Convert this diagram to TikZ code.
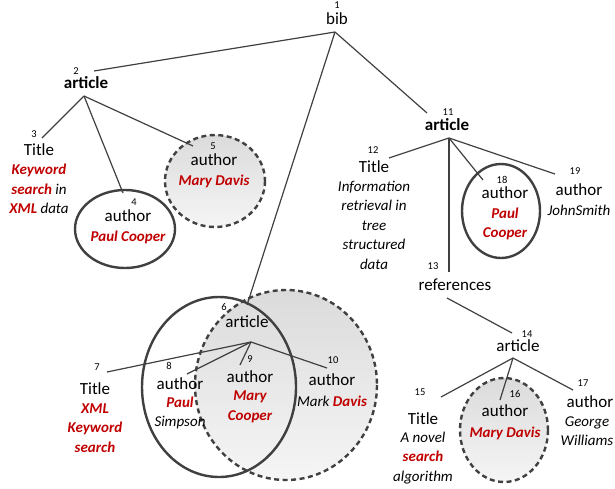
\documentclass[tikz,border=0pt]{standalone}
\usepackage{fontspec}
\setmainfont{Carlito}
\definecolor{kred}{RGB}{192,0,0}
\definecolor{edgec}{RGB}{64,64,64}
\definecolor{ringc}{RGB}{64,64,64}
\newcommand{\hl}[1]{\textcolor{kred}{\bfseries #1}}
% vertical grey gradient inside an ellipse: darker at the top, lighter at the bottom
\newcommand{\gradell}[4]{%
 \begin{scope}
 \clip (#1,#2) ellipse [x radius=#3, y radius=#4];
 \foreach \i [evaluate=\i as \pc using 14-10*\i/29] in {0,...,29}
   \fill[black!\pc] ({#1-#3},{#2-#4+\i*2*#4/30}) rectangle ({#1+#3},{#2-#4+(\i+1)*2*#4/30+0.6});
 \end{scope}}
\begin{document}
\begin{tikzpicture}[x=1pt,y=-1pt,
 lab/.style={font=\fontsize{17}{20}\selectfont, inner sep=0pt},
 blab/.style={font=\fontsize{17}{20}\selectfont\bfseries, inner sep=0pt},
 num/.style={font=\fontsize{10.5}{12}\selectfont, inner sep=0pt},
 val/.style={font=\fontsize{15}{19.5}\selectfont\itshape, align=center, inner sep=0pt},
 edge/.style={draw=edgec, line width=1.2pt},
 ring/.style={draw=ringc, line width=2.4pt},
 dring/.style={draw=ringc, line width=2.4pt, dash pattern=on 5pt off 3.5pt}
]
\useasboundingbox (0,0) rectangle (615,488);

% shaded dashed circles (fills)
\gradell{215}{181}{50}{46}
\gradell{286}{385}{91}{95}
\gradell{504}{430}{44}{52}

% connector endpoints
\coordinate (o1) at (335,32);
\coordinate (o2) at (84,96);
\coordinate (o6) at (251,342);
\coordinate (o11) at (449,138);
\coordinate (o13) at (447,298);
\coordinate (o14) at (513,358);
\coordinate (e2) at (94,71);
\coordinate (e3) at (42,138);
\coordinate (e4) at (123,193);
\coordinate (e5) at (193,146);
\coordinate (e6) at (247,305);
\coordinate (e7) at (107,372);
\coordinate (e8) at (187,374);
\coordinate (e9) at (240,365);
\coordinate (e10) at (327,368);
\coordinate (e11) at (427,113);
\coordinate (e12) at (389,158);
\coordinate (e13) at (449,272);
\coordinate (e14) at (512,333);
\coordinate (e15) at (441,397);
\coordinate (e16) at (500,400);
\coordinate (e17) at (573,390);
\coordinate (e18) at (483,180);
\coordinate (e19) at (555,174);

% connectors
\draw[edge] (o1) -- (e2);
\draw[edge] (o1) -- (e6);
\draw[edge] (o1) -- (e11);
\draw[edge] (o2) -- (e3);
\draw[edge] (o2) -- (e4);
\draw[edge] (o2) -- (e5);
\draw[edge] (o6) -- (e7);
\draw[edge] (o6) -- (e8);
\draw[edge] (o6) -- (e9);
\draw[edge] (o6) -- (e10);
\draw[edge] (o11) -- (e12);
\draw[edge] (o11) -- (e13);
\draw[edge] (o11) -- (e18);
\draw[edge] (o11) -- (e19);
\draw[edge] (o13) -- (e14);
\draw[edge] (o14) -- (e15);
\draw[edge] (o14) -- (e16);
\draw[edge] (o14) -- (e17);

% rings
\draw[dring] (215,181) ellipse [x radius=50, y radius=46];
\draw[dring] (286,385) ellipse [x radius=91, y radius=95];
\draw[dring] (504,430) ellipse [x radius=44, y radius=52];
\draw[ring] (125,229) ellipse [x radius=50, y radius=39];
\draw[ring] (219,387) ellipse [x radius=77, y radius=90];
\draw[ring] (501,211) ellipse [x radius=39, y radius=47];

% node 1
\node[num] (k1) at (337,5) {1};
\node[lab] (n1) at (337,19) {bib};
% node 2
\node[num] (k2) at (76,71) {2};
\node[blab] (n2) at (86,83) {article};
% node 3
\node[num] (k3) at (34,134) {3};
\node[lab] (n3) at (39,150) {Title};
\node[val] (v3) at (39,189) {\hl{Keyword}\\\hl{search} in\\\hl{XML} data};
% node 4
\node[num] (k4) at (134,202) {4};
\node[lab] (n4) at (128,216) {author};
\node[val] (v4) at (128,237) {\hl{Paul Cooper}};
% node 5
\node[num] (k5) at (213,146) {5};
\node[lab] (n5) at (214,160) {author};
\node[val] (v5) at (214,181) {\hl{Mary Davis}};
% node 6
\node[num] (k6) at (224,307) {6};
\node[lab] (n6) at (247,322) {article};
% node 7
\node[num] (k7) at (97,367) {7};
\node[lab] (n7) at (95,389) {Title};
\node[val] (v7) at (95,428) {\hl{XML}\\\hl{Keyword}\\\hl{search}};
% node 8
\node[num] (k8) at (169,366) {8};
\node[lab] (n8) at (180,384) {author};
\node[val] (v8) at (180,413) {\hl{Paul}\\Simpson};
% node 9
\node[num] (k9) at (250,359) {9};
\node[lab] (n9) at (250,377) {author};
\node[val] (v9) at (250,407) {\hl{Mary}\\\hl{Cooper}};
% node 10
\node[num] (k10) at (333,360) {10};
\node[lab] (n10) at (332,380) {author};
\node[val] (v10) at (332,401) {Mark \hl{Davis}};
% node 11
\node[num] (k11) at (448,112) {11};
\node[blab] (n11) at (447,125) {article};
% node 12
\node[num] (k12) at (373,150) {12};
\node[lab] (n12) at (374,167) {Title};
\node[val] (v12) at (374,225) {Information\\retrieval in\\tree\\structured\\data};
% node 13
\node[num] (k13) at (433,266) {13};
\node[lab] (n13) at (455,285) {references};
% node 14
\node[num] (k14) at (527,334) {14};
\node[lab] (n14) at (518,346) {article};
% node 15
\node[num] (k15) at (420,392) {15};
\node[lab] (n15) at (423,419) {Title};
\node[val] (v15) at (423,458) {A novel\\\hl{search}\\algorithm};
% node 16
\node[num] (k16) at (515,394) {16};
\node[lab] (n16) at (505,411) {author};
\node[val] (v16) at (505,433) {\hl{Mary Davis}};
% node 17
\node[num] (k17) at (583,383) {17};
\node[lab] (n17) at (590,402) {author};
\node[val] (v17) at (587,431) {George\\Williams};
% node 18
\node[num] (k18) at (502,180) {18};
\node[lab] (n18) at (505,193) {author};
\node[val] (v18) at (505,224) {\hl{Paul}\\\hl{Cooper}};
% node 19
\node[num] (k19) at (575,171) {19};
\node[lab] (n19) at (579,190) {author};
\node[val] (v19) at (579,210) {JohnSmith};
\end{tikzpicture}
\end{document}
